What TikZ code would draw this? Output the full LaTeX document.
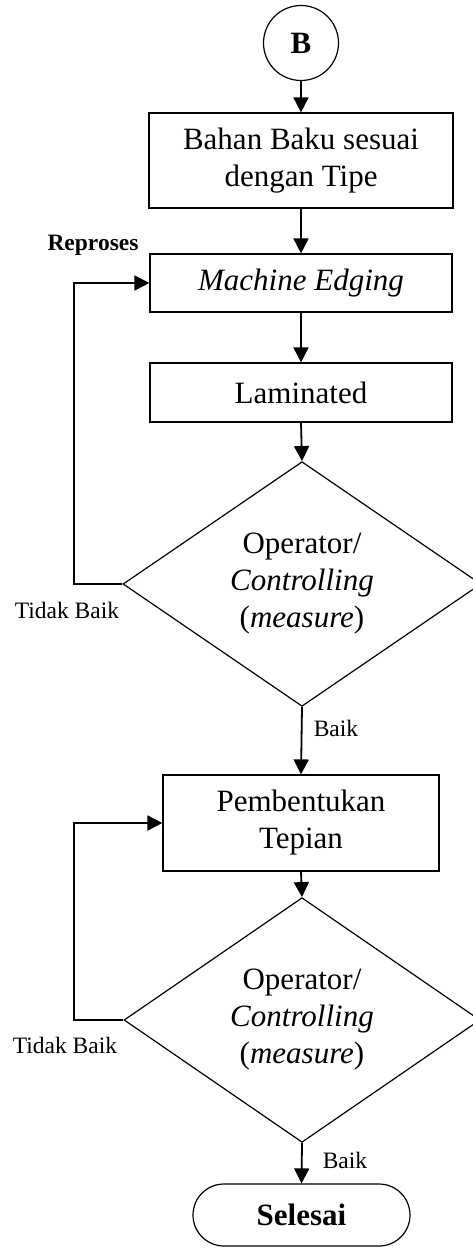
\documentclass[tikz,border=0pt]{standalone}
\usepackage{fontspec}
\setmainfont{Liberation Serif}
\usetikzlibrary{shapes.geometric,arrows.meta}
\tikzset{
  every node/.style={font=\fontsize{31}{37}\selectfont},
  procbox/.style={draw, line width=1.2pt, rectangle, inner sep=0pt, align=center},
  decision/.style={draw, line width=1.2pt, diamond, inner sep=0pt, align=center},
  terminal/.style={draw, line width=1.2pt, rectangle, rounded corners=31pt, inner sep=0pt, align=center},
  connector/.style={circle, draw, line width=1.2pt, inner sep=0pt},
  flow/.style={line width=1.8pt, -{Triangle[length=15pt,width=15pt]}},
  lbl/.style={font=\fontsize{23.5}{28}\selectfont, inner sep=0pt}
}
\begin{document}
\begin{tikzpicture}[x=1pt, y=-1pt]
  \useasboundingbox (0,0) rectangle (472,1254);

  % start connector
  \node[connector, minimum size=75pt, font=\fontsize{31}{36}\selectfont\bfseries] (start) at (301,43) {B};

  % process steps
  \node[procbox, minimum width=304pt, minimum height=95pt] (bahan) at (301,160.5) {Bahan Baku sesuai\\dengan Tipe};
  \node[procbox, minimum width=302pt, minimum height=58pt] (edging) at (301,283) {\itshape Machine Edging};
  \node[procbox, minimum width=302pt, minimum height=59pt] (lam) at (301,392.5) {Laminated};

  % first check
  \node[decision, minimum width=358pt, minimum height=242pt] (cek1) at (302,584) {Operator/\\\itshape Controlling\\(\textit{measure})};

  \node[procbox, minimum width=276pt, minimum height=96pt] (tepi) at (301,823) {Pembentukan\\Tepian};

  % second check
  \node[decision, minimum width=356pt, minimum height=240pt] (cek2) at (302,1020) {Operator/\\\itshape Controlling\\(\textit{measure})};

  \node[terminal, minimum width=217pt, minimum height=62pt, font=\fontsize{31}{36}\selectfont\bfseries] (selesai) at (301.5,1215) {Selesai};

  % main flow
  \draw[flow] (start.south) -- (bahan.north);
  \draw[flow] (bahan.south) -- (edging.north);
  \draw[flow] (edging.south) -- (lam.north);
  \draw[flow] (lam.south) -- (cek1.north);
  \draw[flow] (cek1.south) -- (tepi.north);
  \draw[flow] (tepi.south) -- (cek2.north);
  \draw[flow] (cek2.south) -- (selesai.north);

  % rework loops
  \coordinate (loop1) at (74,584);
  \coordinate (loop2) at (74,1020);
  \draw[flow] (cek1.west) -- (loop1) |- (edging.west);
  \draw[flow] (cek2.west) -- (loop2) |- (tepi.west);

  % labels
  \node[lbl, font=\fontsize{23.5}{28}\selectfont\bfseries] (reproses) at (93,245) {Reproses};
  \node[lbl] (tb1) at (67,610) {Tidak Baik};
  \node[lbl] (tb2) at (65,1045) {Tidak Baik};
  \node[lbl] (baik1) at (336,728) {Baik};
  \node[lbl] (baik2) at (345,1160) {Baik};
\end{tikzpicture}
\end{document}
